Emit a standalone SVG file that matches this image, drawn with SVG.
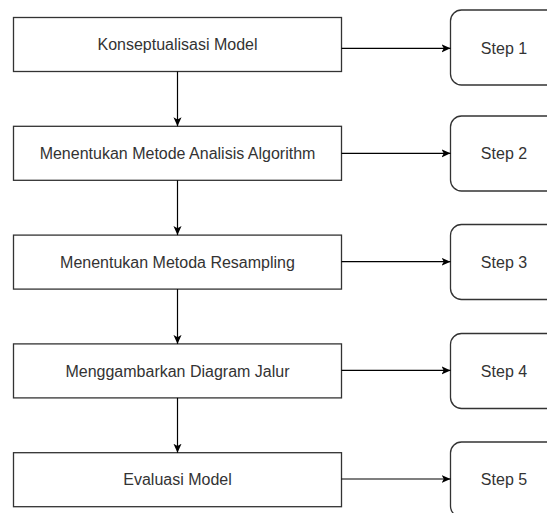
<svg xmlns="http://www.w3.org/2000/svg" width="547" height="513" viewBox="0 0 547 513">
  <style>
    .box { fill: #ffffff; stroke: #333333; stroke-width: 1.3; }
    .step { fill: #ffffff; stroke: #333333; stroke-width: 1.3; }
    .lbl { font-family: "Liberation Sans", Arial, sans-serif; font-size: 16px; fill: #333333; text-anchor: middle; }
    .edge { fill: none; stroke: #000000; stroke-width: 1.2; }
  </style>
  <defs>
    <marker id="arrow" viewBox="0 0 10 10" refX="10" refY="5" markerWidth="9" markerHeight="9" markerUnits="userSpaceOnUse" orient="auto">
      <path d="M0,0.5 L10,5 L0,9.5 L2.5,5 Z" fill="#000000"/>
    </marker>
  </defs>
  <rect width="547" height="513" fill="#ffffff"/>

  <g id="node-konseptualisasi">
    <rect class="box" x="13.5" y="17.5" width="328" height="54"/>
    <text class="lbl" x="177.5" y="50">Konseptualisasi Model</text>
  </g>
  <g id="node-metode-analisis">
    <rect class="box" x="13.5" y="126.3" width="328" height="54"/>
    <text class="lbl" x="177.5" y="159">Menentukan Metode Analisis Algorithm</text>
  </g>
  <g id="node-resampling">
    <rect class="box" x="13.5" y="235.1" width="328" height="54"/>
    <text class="lbl" x="177.5" y="267.8">Menentukan Metoda Resampling</text>
  </g>
  <g id="node-diagram-jalur">
    <rect class="box" x="13.5" y="343.9" width="328" height="54"/>
    <text class="lbl" x="177.5" y="376.6">Menggambarkan Diagram Jalur</text>
  </g>
  <g id="node-evaluasi">
    <rect class="box" x="13.5" y="452.7" width="328" height="54"/>
    <text class="lbl" x="177.5" y="485.4">Evaluasi Model</text>
  </g>

  <g id="node-step1">
    <rect class="step" x="450.5" y="10" width="110" height="75" rx="11" ry="11"/>
    <text class="lbl" x="504" y="53.5">Step 1</text>
  </g>
  <g id="node-step2">
    <rect class="step" x="450.5" y="116" width="110" height="75" rx="11" ry="11"/>
    <text class="lbl" x="504" y="159">Step 2</text>
  </g>
  <g id="node-step3">
    <rect class="step" x="450.5" y="224.5" width="110" height="75" rx="11" ry="11"/>
    <text class="lbl" x="504" y="267.8">Step 3</text>
  </g>
  <g id="node-step4">
    <rect class="step" x="450.5" y="333.5" width="110" height="75" rx="11" ry="11"/>
    <text class="lbl" x="504" y="376.6">Step 4</text>
  </g>
  <g id="node-step5">
    <rect class="step" x="450.5" y="442" width="110" height="75" rx="11" ry="11"/>
    <text class="lbl" x="504" y="485.4">Step 5</text>
  </g>

  <g id="connectors">
    <line class="edge" x1="177.5" y1="71.5" x2="177.5" y2="126.3" marker-end="url(#arrow)"/>
    <line class="edge" x1="177.5" y1="180.3" x2="177.5" y2="235.1" marker-end="url(#arrow)"/>
    <line class="edge" x1="177.5" y1="289.1" x2="177.5" y2="343.9" marker-end="url(#arrow)"/>
    <line class="edge" x1="177.5" y1="397.9" x2="177.5" y2="452.7" marker-end="url(#arrow)"/>
    <line class="edge" x1="341.5" y1="48.3" x2="450.5" y2="48.3" marker-end="url(#arrow)"/>
    <line class="edge" x1="341.5" y1="153.3" x2="450.5" y2="153.3" marker-end="url(#arrow)"/>
    <line class="edge" x1="341.5" y1="261.7" x2="450.5" y2="261.7" marker-end="url(#arrow)"/>
    <line class="edge" x1="341.5" y1="370.4" x2="450.5" y2="370.4" marker-end="url(#arrow)"/>
    <line class="edge" x1="341.5" y1="479" x2="450.5" y2="479" marker-end="url(#arrow)"/>
  </g>
</svg>
